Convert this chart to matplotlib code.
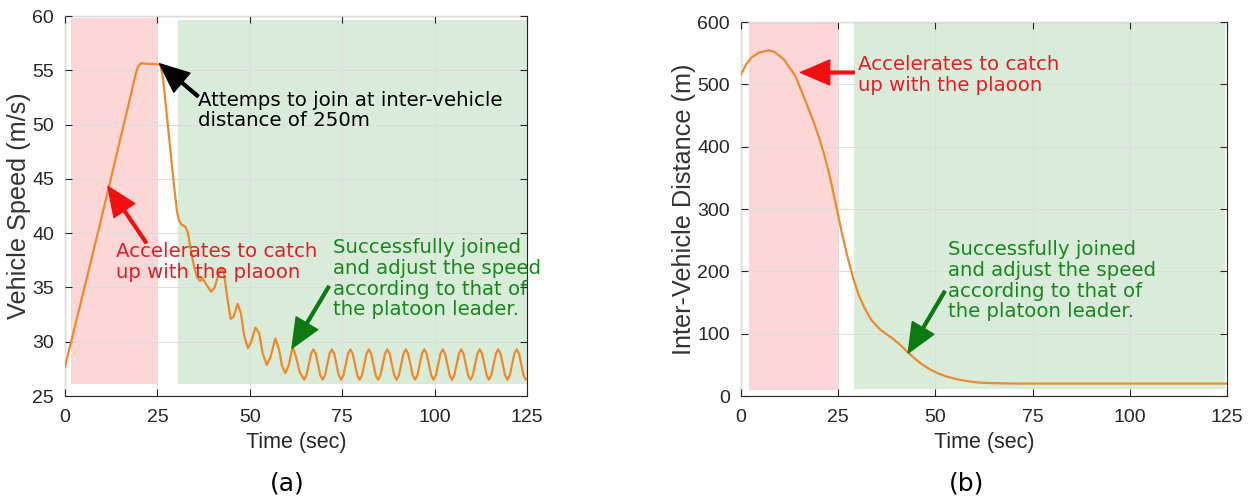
import numpy as np
import matplotlib
matplotlib.use("Agg")
import matplotlib.pyplot as plt

# ---------------- data: (a) vehicle speed ----------------
t_speed_transient = [0, 2, 5, 10, 15, 18, 19, 19.7, 20.5, 22, 25, 25.8, 26.5, 27.5, 28.5,
                     29.5, 30.3, 30.8, 31.5, 32.5, 33.2, 34, 35, 35.8, 36.5, 37.3, 38.2,
                     39.5, 40.5, 41.5, 42.3, 43, 43.8, 44.8, 45.6, 46.7, 47.6, 48.5, 49.5,
                     50.4, 51.5, 52.5, 53.5, 54.6, 55.6, 56.9, 57.9, 58.7, 59.6, 60.5,
                     61.6, 62.5, 63.5]
v_speed_transient = [27.7, 30.5, 34.6, 41.6, 48.7, 53.0, 54.5, 55.3, 55.65, 55.6, 55.55,
                     55.5, 54.3, 51.0, 47.6, 44.3, 42.0, 41.2, 40.8, 40.6, 40.1, 38.5,
                     36.8, 35.9, 35.6, 35.8, 35.3, 34.6, 35.0, 36.2, 36.8, 36.4, 34.3,
                     32.1, 32.3, 33.5, 32.6, 30.5, 29.4, 30.0, 31.3, 30.8, 28.9, 27.85,
                     28.6, 30.3, 29.3, 27.8, 27.1, 27.8, 29.5, 28.6, 27.2]
# steady oscillation, sampled every 0.625 s from 64.7 s
osc_start, osc_step = 64.7, 0.625
v_speed_osc = [26.5, 26.9, 27.9, 28.9, 29.3, 28.9, 27.9, 26.9,
               26.5, 26.9, 27.9, 28.9, 29.3, 28.9, 27.9, 26.9,
               26.5, 26.9, 27.9, 28.9, 29.3, 28.9, 27.9, 26.9,
               26.5, 26.9, 27.9, 28.9, 29.3, 28.9, 27.9, 26.9,
               26.5, 26.9, 27.9, 28.9, 29.3, 28.9, 27.9, 26.9,
               26.5, 26.9, 27.9, 28.9, 29.3, 28.9, 27.9, 26.9,
               26.5, 26.9, 27.9, 28.9, 29.3, 28.9, 27.9, 26.9,
               26.5, 26.9, 27.9, 28.9, 29.3, 28.9, 27.9, 26.9,
               26.5, 26.9, 27.9, 28.9, 29.3, 28.9, 27.9, 26.9,
               26.5, 26.9, 27.9, 28.9, 29.3, 28.9, 27.9, 26.9,
               26.5, 26.9, 27.9, 28.9, 29.3, 28.9, 27.9, 26.9,
               26.5, 26.9, 27.9, 28.9, 29.3, 28.9, 27.9, 26.9,
               26.5]
t_speed_end, v_speed_end = 125, 26.55

# ---------------- data: (b) inter-vehicle distance ----------------
t_dist = [0, 1.3, 2.7, 4.6, 7.1, 8.6, 11, 14, 16.9, 18.4, 19.9, 21.4, 22.9, 24.3,
          25.8, 27.3, 28.8, 30.2, 31.7, 33.5, 35.7, 37.0, 38.6, 40.6, 42.6, 44.5,
          46.5, 48.5, 50.4, 53, 55.4, 58, 61.3, 65, 70, 80, 100, 125]
d_dist = [516, 532, 543, 551, 554.5, 552, 540, 513, 468, 444, 418, 387, 350, 310,
          265, 225, 190, 163, 142, 122, 107, 101, 94, 84, 72, 61,
          51, 43, 37, 31, 27, 24, 21.4, 20.6, 20, 20, 20, 20]

x_ticks = [0, 25, 50, 75, 100, 125]
speed_ticks = [25, 30, 35, 40, 45, 50, 55, 60]
dist_ticks = [0, 100, 200, 300, 400, 500, 600]

# shaded phases (time start, time end, value low, value high)
speed_pink = (1.7, 25.2, 26.1, 59.8)
speed_green = (30.5, 125, 26.1, 59.6)
dist_pink = (2.0, 25.0, 9.6, 599)
dist_green = (29.1, 124.4, 11.5, 599)

# ---------------- style ----------------
ORANGE = "#ee8a2a"
PINK = "#fdd7d7"
GREEN = "#d9ecd9"
RED_T = "#e41e24"
GREEN_T = "#18861c"
GREEN_A = "#0b7a10"
TICK_FONT = "Liberation Sans"
ANN_FONT = "DejaVu Sans"
ANN_SIZE = 14.2
LS = 1.12

fig = plt.figure(figsize=(12.48, 4.97), dpi=100)
ax1 = fig.add_axes([0.0521, 0.2032, 0.3702, 0.7646])
ax2 = fig.add_axes([0.5938, 0.2032, 0.3894, 0.7525])


def style_axes(ax, yticks, ylabel):
    ax.set_xlim(0, 125)
    ax.set_xticks(x_ticks)
    ax.set_yticks(yticks)
    ax.set_ylim(yticks[0], yticks[-1])
    ax.grid(True, color="#dcdcdc", lw=0.8, zorder=0.5)
    ax.set_axisbelow(False)
    ax.tick_params(direction="in", top=True, right=True, length=5, width=0.8,
                   labelsize=14, color="#262626", labelcolor="#262626")
    ax.tick_params(axis="y", pad=8)
    ax.tick_params(axis="x", pad=9)
    for lab in ax.get_xticklabels() + ax.get_yticklabels():
        lab.set_fontfamily(TICK_FONT)
    for s in ax.spines.values():
        s.set_color("#262626")
        s.set_linewidth(0.8)
    ax.set_xlabel("Time (sec)", fontsize=15.5, family=TICK_FONT, color="#262626", labelpad=5)
    ax.set_ylabel(ylabel, fontsize=18.2, family=TICK_FONT, color="#333333", labelpad=1)


def shade(ax, box, color):
    x0, x1, y0, y1 = box
    ax.fill_between([x0, x1], [y0, y0], [y1, y1], color=color, lw=0, zorder=0.2)


# ---- (a)
shade(ax1, speed_pink, PINK)
shade(ax1, speed_green, GREEN)
t_osc = osc_start + osc_step * np.arange(len(v_speed_osc))
t_all = np.concatenate([t_speed_transient, t_osc, [t_speed_end]])
v_all = np.concatenate([v_speed_transient, v_speed_osc, [v_speed_end]])
ax1.plot(t_all, v_all, color=ORANGE, lw=1.6, zorder=3)
style_axes(ax1, speed_ticks, "Vehicle Speed (m/s)")

arrow_kw = dict(width=2.0, headwidth=18, headlength=21)
ax1.annotate("", xy=(25.6, 55.6), xytext=(36.0, 52.6),
             arrowprops=dict(facecolor="black", edgecolor="black", **arrow_kw), zorder=5)
ax1.text(35.9, 51.3, "Attemps to join at inter-vehicle\ndistance of 250m", family=ANN_FONT,
         fontsize=ANN_SIZE, color="black", va="center", ha="left", linespacing=LS, zorder=6)

ax1.annotate("", xy=(11.6, 44.3), xytext=(22.0, 39.1),
             arrowprops=dict(facecolor="#f01010", edgecolor="#f01010", **arrow_kw), zorder=5)
ax1.text(13.7, 37.35, "Accelerates to catch\nup with the plaoon", family=ANN_FONT,
         fontsize=ANN_SIZE, color=RED_T, va="center", ha="left", linespacing=LS, zorder=6)

ax1.annotate("", xy=(61.4, 29.4), xytext=(71.4, 35.1),
             arrowprops=dict(facecolor=GREEN_A, edgecolor=GREEN_A, **arrow_kw), zorder=5)
ax1.text(72.4, 35.8, "Successfully joined\nand adjust the speed\naccording to that of\nthe platoon leader.",
         family=ANN_FONT, fontsize=ANN_SIZE, color=GREEN_T, va="center", ha="left",
         linespacing=LS, zorder=6)

# ---- (b)
shade(ax2, dist_pink, PINK)
shade(ax2, dist_green, GREEN)
ax2.plot(t_dist, d_dist, color=ORANGE, lw=1.6, zorder=3)
style_axes(ax2, dist_ticks, "Inter-Vehicle Distance (m)")

ax2.annotate("", xy=(15.3, 519), xytext=(29.1, 519),
             arrowprops=dict(facecolor="#f01010", edgecolor="#f01010", **arrow_kw), zorder=5)
ax2.text(30.1, 515, "Accelerates to catch\nup with the plaoon", family=ANN_FONT,
         fontsize=ANN_SIZE, color=RED_T, va="center", ha="left", linespacing=LS, zorder=6)

ax2.annotate("", xy=(43.0, 69), xytext=(52.4, 168),
             arrowprops=dict(facecolor=GREEN_A, edgecolor=GREEN_A, **arrow_kw), zorder=5)
ax2.text(53.1, 185, "Successfully joined\nand adjust the speed\naccording to that of\nthe platoon leader.",
         family=ANN_FONT, fontsize=ANN_SIZE, color=GREEN_T, va="center", ha="left",
         linespacing=LS, zorder=6)

fig.text(287 / 1248, 1 - 484 / 497, "(a)", family=ANN_FONT, fontsize=18, ha="center",
         va="center", color="black")
fig.text(967 / 1248, 1 - 484 / 497, "(b)", family=ANN_FONT, fontsize=18, ha="center",
         va="center", color="black")

fig.savefig("out.png", dpi=100)
